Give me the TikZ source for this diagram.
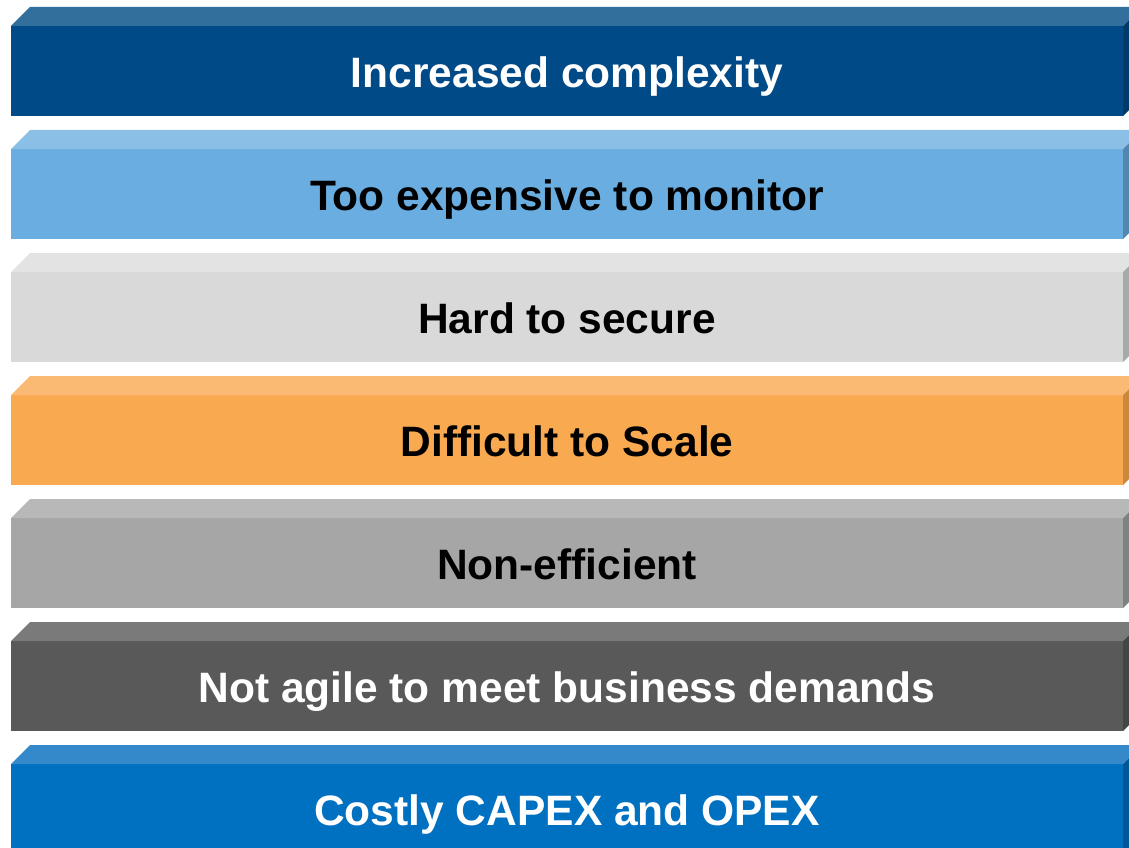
\documentclass[tikz,border=0pt]{standalone}
\usepackage{fontspec}
\setsansfont{Liberation Sans}
\usetikzlibrary{positioning}

\definecolor{navyF}{HTML}{004B87}\definecolor{navyT}{HTML}{336F9C}\definecolor{navyS}{HTML}{003A69}
\definecolor{skyF}{HTML}{6AADE0}\definecolor{skyT}{HTML}{8BBFE6}\definecolor{skyS}{HTML}{5286AE}
\definecolor{silverF}{HTML}{D9D9D9}\definecolor{silverT}{HTML}{E3E3E3}\definecolor{silverS}{HTML}{A9A9A9}
\definecolor{orangeF}{HTML}{F9AA51}\definecolor{orangeT}{HTML}{FABA73}\definecolor{orangeS}{HTML}{C9883E}
\definecolor{greyF}{HTML}{A6A6A6}\definecolor{greyT}{HTML}{B8B8B8}\definecolor{greyS}{HTML}{818181}
\definecolor{darkF}{HTML}{595959}\definecolor{darkT}{HTML}{7A7A7A}\definecolor{darkS}{HTML}{454545}
\definecolor{blueF}{HTML}{0070C0}\definecolor{blueT}{HTML}{3489CB}\definecolor{blueS}{HTML}{005795}

\begin{document}
\begin{tikzpicture}[x=1pt, y=-1pt, node distance = 33pt,
  bar/.style = {minimum width=1112pt, minimum height=90pt, inner sep=0pt,
    outer sep=0pt, text height=33pt, text depth=0pt,
    font=\sffamily\bfseries\fontsize{42.5}{50}\selectfont},
  ]
  \useasboundingbox (0,0) rectangle (1129,848);
  \clip (0,0) rectangle (1129,848);

  % front faces
  \node (cplx) [bar, fill=navyF, text=white] at (567,71) {Increased complexity};
  \node (mon) [bar, fill=skyF, below=of cplx] {Too expensive to monitor};
  \node (sec) [bar, fill=silverF, below=of mon] {Hard to secure};
  \node (scale) [bar, fill=orangeF, below=of sec] {Difficult to Scale};
  \node (eff) [bar, fill=greyF, below=of scale] {Non-efficient};
  \node (agile) [bar, fill=darkF, text=white, below=of eff] {Not agile to meet business demands};
  \node (cost) [bar, fill=blueF, text=white, below=of agile] {Costly CAPEX and OPEX};

  % top and side faces
  \fill[navyT] (cplx.north west) -- ++(19,-19) -- ++(1112,0) -- (cplx.north east) -- cycle;
  \fill[navyS] (cplx.north east) -- ++(19,-19) -- ++(0,90) -- (cplx.south east) -- cycle;
  \fill[skyT] (mon.north west) -- ++(19,-19) -- ++(1112,0) -- (mon.north east) -- cycle;
  \fill[skyS] (mon.north east) -- ++(19,-19) -- ++(0,90) -- (mon.south east) -- cycle;
  \fill[silverT] (sec.north west) -- ++(19,-19) -- ++(1112,0) -- (sec.north east) -- cycle;
  \fill[silverS] (sec.north east) -- ++(19,-19) -- ++(0,90) -- (sec.south east) -- cycle;
  \fill[orangeT] (scale.north west) -- ++(19,-19) -- ++(1112,0) -- (scale.north east) -- cycle;
  \fill[orangeS] (scale.north east) -- ++(19,-19) -- ++(0,90) -- (scale.south east) -- cycle;
  \fill[greyT] (eff.north west) -- ++(19,-19) -- ++(1112,0) -- (eff.north east) -- cycle;
  \fill[greyS] (eff.north east) -- ++(19,-19) -- ++(0,90) -- (eff.south east) -- cycle;
  \fill[darkT] (agile.north west) -- ++(19,-19) -- ++(1112,0) -- (agile.north east) -- cycle;
  \fill[darkS] (agile.north east) -- ++(19,-19) -- ++(0,90) -- (agile.south east) -- cycle;
  \fill[blueT] (cost.north west) -- ++(19,-19) -- ++(1112,0) -- (cost.north east) -- cycle;
  \fill[blueS] (cost.north east) -- ++(19,-19) -- ++(0,90) -- (cost.south east) -- cycle;
\end{tikzpicture}
\end{document}
